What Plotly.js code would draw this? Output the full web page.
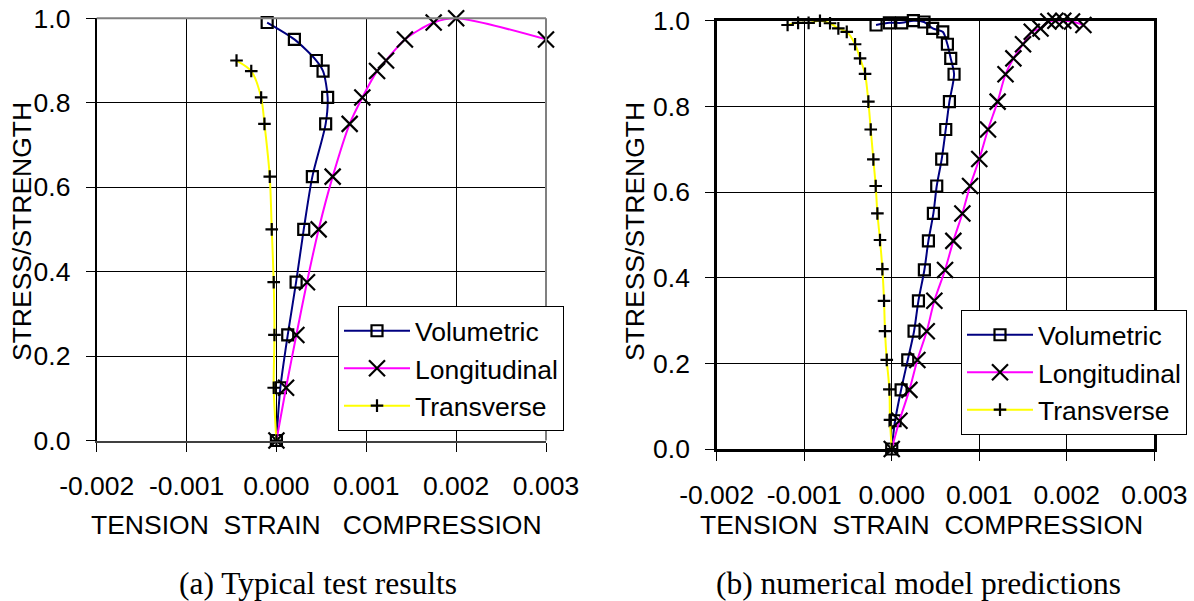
<!DOCTYPE html>
<html>
<head>
<meta charset="utf-8">
<script src="https://cdn.plot.ly/plotly-3.0.1.min.js"></script>
<style>html,body{margin:0;padding:0;background:#fff;}#chart{width:1194px;height:601px;}</style>
</head>
<body>
<div id="chart"></div>
<script>
// ---- tick labels ----
const xTickVals = [-0.002, -0.001, 0.000, 0.001, 0.002, 0.003];
const xTickText = ['-0.002', '-0.001', '0.000', '0.001', '0.002', '0.003'];
const yTickVals = [0, 0.2, 0.4, 0.6, 0.8, 1.0];
const yTickText = ['0.0', '0.2', '0.4', '0.6', '0.8', '1.0'];
const seriesNames = ['Volumetric', 'Longitudinal', 'Transverse'];

// ---- (a) Typical test results ----
const aVolX = [0, 0.000044, 0.000126, 0.000219, 0.000304, 0.0004, 0.000548, 0.00057, 0.000519, 0.000444, 0.0002, -0.000103];
const aVolY = [0, 0.125, 0.25, 0.375, 0.5, 0.625, 0.75, 0.8125, 0.875, 0.9, 0.95, 0.99];
const aLonX = [0, 0.000107, 0.000222, 0.00034, 0.00047, 0.000626, 0.000815, 0.000956, 0.00112, 0.00122, 0.00143, 0.00175, 0.002, 0.003];
const aLonY = [0, 0.125, 0.25, 0.375, 0.5, 0.625, 0.75, 0.8125, 0.875, 0.9, 0.95, 0.99, 1.0, 0.95];
const aTraX = [0, -0.00003, -0.000022, -0.00003, -0.000052, -0.000074, -0.000133, -0.00017, -0.00028, -0.000444];
const aTraY = [0, 0.125, 0.25, 0.375, 0.5, 0.625, 0.75, 0.8125, 0.875, 0.9];

// ---- (b) numerical model predictions ----
const bVolX = [0, 0.000038, 0.000107, 0.000183, 0.000255, 0.000305, 0.000373, 0.000419, 0.000476, 0.000514, 0.000571, 0.000617, 0.000659, 0.000712, 0.000674, 0.000636, 0.000583, 0.000468, 0.000369, 0.000247, 0.000114, -0.000027, -0.000179];
const bVolY = [0, 0.066, 0.138, 0.208, 0.275, 0.346, 0.418, 0.486, 0.55, 0.614, 0.677, 0.746, 0.811, 0.875, 0.912, 0.945, 0.974, 0.982, 0.997, 1.0, 0.995, 0.995, 0.99];
const bLonX = [0, 0.000088, 0.000202, 0.000293, 0.0004, 0.000487, 0.000609, 0.000704, 0.000807, 0.000895, 0.001, 0.0011, 0.00121, 0.0013, 0.00139, 0.0015, 0.0016, 0.0017, 0.00179, 0.00187, 0.00196, 0.00206, 0.00219];
const bLonY = [0, 0.066, 0.138, 0.208, 0.275, 0.346, 0.418, 0.486, 0.55, 0.614, 0.677, 0.746, 0.811, 0.875, 0.912, 0.945, 0.974, 0.982, 0.998, 1.0, 1.0, 0.998, 0.99];
const bTraX = [0, -0.00002, -0.000027, -0.000057, -0.000077, -0.000088, -0.000107, -0.000134, -0.000164, -0.000183, -0.00021, -0.00024, -0.000267, -0.000305, -0.000362, -0.000419, -0.000514, -0.00061, -0.000705, -0.00082, -0.00095, -0.00107, -0.00119];
const bTraY = [0, 0.068, 0.139, 0.208, 0.275, 0.346, 0.42, 0.488, 0.55, 0.614, 0.676, 0.746, 0.811, 0.876, 0.912, 0.945, 0.974, 0.982, 0.994, 1.0, 0.995, 0.995, 0.99];

const colors = ['#000080', '#FF00FF', '#FFFF00'];
const symbols = ['square-open', 'x-thin-open', 'cross-thin-open'];
const sizes = [11, 16, 9];

function mk(x, y, i, xa, ya, leg) {
  return {
    type: 'scatter', mode: 'lines+markers', x: x, y: y, name: seriesNames[i],
    xaxis: xa, yaxis: ya, legend: leg, cliponaxis: false,
    line: {color: colors[i], width: 2, shape: 'spline', smoothing: 0.8},
    marker: {symbol: symbols[i], size: sizes[i], color: '#000', line: {color: '#000', width: 2.2}}
  };
}

const data = [
  mk(aVolX, aVolY, 0, 'x', 'y', 'legend'),
  mk(aLonX, aLonY, 1, 'x', 'y', 'legend'),
  mk(aTraX, aTraY, 2, 'x', 'y', 'legend'),
  mk(bVolX, bVolY, 0, 'x2', 'y2', 'legend2'),
  mk(bLonX, bLonY, 1, 'x2', 'y2', 'legend2'),
  mk(bTraX, bTraY, 2, 'x2', 'y2', 'legend2')
];

const W = 1194, H = 601;
const tickFont = {family: 'Liberation Sans, Arial, sans-serif', size: 26.5, color: '#000'};

function xax(d0, d1, anchor, lineColor, lw) {
  return {
    domain: [d0 / W, d1 / W], anchor: anchor, range: [-0.002, 0.003],
    tickmode: 'array', tickvals: xTickVals, ticktext: xTickText,
    ticks: 'outside', ticklen: 9, tickcolor: '#000', tickwidth: 1,
    ticklabelstandoff: 12,
    showgrid: true, gridcolor: '#000', gridwidth: 1, zeroline: false,
    showline: true, linecolor: lineColor, linewidth: lw,
    tickfont: tickFont, fixedrange: true
  };
}
function yax(t, b, anchor, lineColor, lw) {
  return {
    domain: [1 - b / H, 1 - t / H], anchor: anchor, range: [0, 1],
    tickmode: 'array', tickvals: yTickVals, ticktext: yTickText,
    ticks: 'outside', ticklen: 9, tickcolor: '#000', tickwidth: 1,
    ticklabelstandoff: 10,
    showgrid: true, gridcolor: '#000', gridwidth: 1, zeroline: false,
    showline: true, linecolor: lineColor, linewidth: lw,
    tickfont: tickFont, fixedrange: true
  };
}

const xa = xax(96.7, 546, 'y', '#404040', 2);
const ya = yax(18.3, 440.5, 'x', '#000', 2);
const xb = xax(716.7, 1154.3, 'y2', '#000', 2.5);
xb.mirror = true;
const yb = yax(20.7, 449, 'x2', '#000', 2.5);
yb.mirror = true;

const legFont = {family: 'Liberation Sans, Arial, sans-serif', size: 26.5, color: '#000'};
const titleFont = {family: 'Liberation Sans, Arial, sans-serif', size: 26.5, color: '#000'};
const capFont = {family: 'Liberation Serif, Times New Roman, serif', size: 31.5, color: '#000'};

function ann(text, px, py, font, angle) {
  return {text: text, xref: 'paper', yref: 'paper', x: px / W, y: 1 - py / H,
    xanchor: 'center', yanchor: 'middle', showarrow: false, font: font, textangle: angle || 0};
}

const layout = {
  width: W, height: H, margin: {l: 0, r: 0, t: 0, b: 0},
  paper_bgcolor: '#fff', plot_bgcolor: '#fff', showlegend: true,
  xaxis: xa, yaxis: ya, xaxis2: xb, yaxis2: yb,
  legend: {x: 338 / W, y: 1 - 306 / H, xanchor: 'left', yanchor: 'top',
    bgcolor: '#fff', bordercolor: '#000', borderwidth: 1, font: legFont, itemwidth: 66},
  legend2: {x: 961 / W, y: 1 - 310 / H, xanchor: 'left', yanchor: 'top',
    bgcolor: '#fff', bordercolor: '#000', borderwidth: 1, font: legFont, itemwidth: 66},
  shapes: [
    {type: 'line', xref: 'x domain', yref: 'y domain', x0: 0, x1: 1, y0: 1, y1: 1, line: {color: '#808080', width: 2}},
    {type: 'line', xref: 'x domain', yref: 'y domain', x0: 1, x1: 1, y0: 0, y1: 1, line: {color: '#808080', width: 2}}
  ],
  annotations: [
    ann('STRESS/STRENGTH', 22, 232, titleFont, -90),
    ann('STRESS/STRENGTH', 635, 232, titleFont, -90),
    ann('TENSION\u00a0\u00a0STRAIN\u00a0\u00a0\u00a0COMPRESSION', 316, 525, titleFont),
    ann('TENSION\u00a0\u00a0STRAIN\u00a0\u00a0COMPRESSION', 921, 525, titleFont),
    ann('(a) Typical test results', 318, 583, capFont),
    ann('(b) numerical model predictions', 918, 583, capFont)
  ]
};

Plotly.newPlot('chart', data, layout, {displayModeBar: false, staticPlot: true});
</script>
</body>
</html>
